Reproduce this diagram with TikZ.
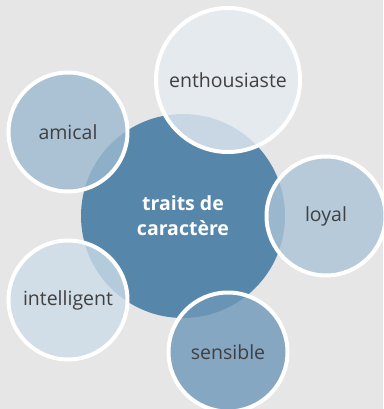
\documentclass[tikz,border=0pt]{standalone}
\usepackage{fontspec}
\setmainfont{Open Sans}
\definecolor{bg}{HTML}{E6E6E6}
\definecolor{hubc}{HTML}{5687AB}
\definecolor{centh}{HTML}{E5ECF2}
\definecolor{camical}{HTML}{9BB9CF}
\definecolor{cloyal}{HTML}{ABC4D6}
\definecolor{cintel}{HTML}{CCDCE8}
\definecolor{csens}{HTML}{6F98B8}
\definecolor{txt}{HTML}{404040}
\begin{document}
\begin{tikzpicture}[x=1pt,y=-1pt,
  hub/.style={circle,fill=hubc,inner sep=0pt,minimum size=204,text=white,
    font=\fontsize{19.5}{25}\selectfont\bfseries,align=center},
  sat/.style={circle,draw=white,line width=4pt,inner sep=0pt,minimum size=119,
    fill opacity=0.8,draw opacity=1,text opacity=1,text=txt,
    font=\fontsize{19.5}{24}\selectfont}]
\fill[bg] (0,0) rectangle (383,409);
\useasboundingbox (0,0) rectangle (383,409);
\node[hub] (hub) at (183,216) {traits de\\caractère};
\node[sat,fill=centh,minimum size=144] (enth) at (228,80) {enthousiaste};
\node[sat,fill=camical] (amical) at (68,132) {amical};
\node[sat,fill=cloyal] (loyal) at (326,216) {loyal};
\node[sat,fill=cintel] (intel) at (68,300) {intelligent};
\node[sat,fill=csens] (sens) at (228,352) {sensible};
\end{tikzpicture}
\end{document}
